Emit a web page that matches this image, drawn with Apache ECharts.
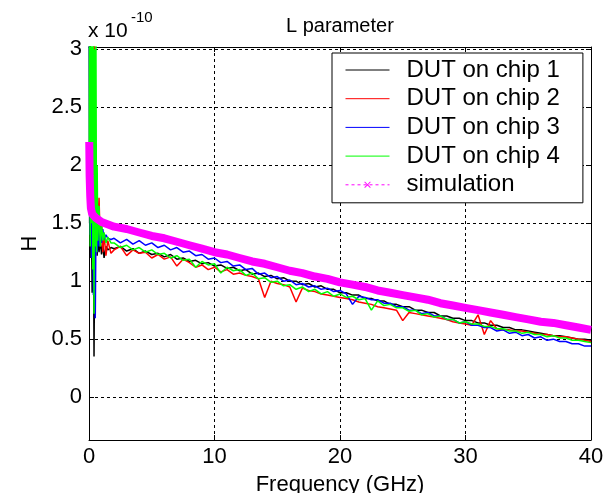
<!DOCTYPE html>
<html>
<head>
<meta charset="utf-8">
<script src="https://cdn.jsdelivr.net/npm/echarts@6/dist/echarts.min.js"></script>
<style>
html, body { margin: 0; padding: 0; background: #fff; }
#main { width: 608px; height: 493px; }
</style>
</head>
<body>
<div id="main"></div>
<script>
// frequency points (GHz), measured traces
var freq = [
    0.02, 0.05, 0.1, 0.15, 0.2, 0.25, 0.3, 0.35, 0.4, 0.45, 0.5, 0.55, 0.6, 0.65, 0.7, 0.8, 0.9, 1.0, 1.1, 1.2, 1.35, 1.5, 1.75,
    2, 2.5, 3, 3.5, 4, 4.5, 5, 5.5, 6, 6.5,
    7, 7.5, 8, 8.5, 9, 9.5, 10, 10.5, 11, 11.5,
    12, 12.5, 13, 13.5, 14, 14.5, 15, 15.5, 16, 16.5,
    17, 17.5, 18, 18.5, 19, 19.5, 20, 20.5, 21, 21.5,
    22, 22.5, 23, 23.5, 24, 24.5, 25, 25.5, 26, 26.5,
    27, 27.5, 28, 28.5, 29, 29.5, 30, 30.5, 31, 31.5,
    32, 32.5, 33, 33.5, 34, 34.5, 35, 35.5, 36, 36.5,
    37, 37.5, 38, 38.5, 39, 39.5, 40
];

// inductance, units of 1e-10 H
var chip1 = [
    3.6, 1.5, 3.4, 1.2, 1.45, 0.9, 1.07, 1.6, 0.35, 1.25, 1.45, 1.28, 1.5, 1.22, 1.4, 1.25, 1.35, 1.23, 1.32, 1.2, 1.30, 1.27, 1.29,
    1.28, 1.30, 1.26, 1.28, 1.24, 1.26, 1.23, 1.24, 1.21, 1.23,
    1.19, 1.20, 1.17, 1.18, 1.15, 1.16, 1.13, 1.14, 1.11, 1.12,
    1.09, 1.10, 1.06, 1.07, 1.04, 1.05, 1.02, 1.03, 1.00, 1.00,
    0.97, 0.98, 0.95, 0.96, 0.93, 0.93, 0.90, 0.90, 0.88, 0.88,
    0.85, 0.85, 0.83, 0.83, 0.80, 0.80, 0.78, 0.78, 0.75, 0.75,
    0.73, 0.73, 0.70, 0.70, 0.68, 0.68, 0.66, 0.66, 0.64, 0.64,
    0.62, 0.62, 0.60, 0.60, 0.58, 0.58, 0.57, 0.56, 0.55, 0.54,
    0.53, 0.53, 0.52, 0.51, 0.50, 0.50, 0.49
];
var chip2 = [
    2.0, 1.8, 1.6, 1.7, 1.55, 1.9, 1.5, 1.75, 3.5, 2.27, 1.4, 1.75, 1.3, 1.8, 1.35, 1.72, 1.3, 1.5, 1.25, 1.4, 1.22, 1.35, 1.24,
    1.27, 1.30, 1.22, 1.27, 1.24, 1.25, 1.20, 1.23, 1.19, 1.21,
    1.13, 1.19, 1.16, 1.12, 1.14, 1.10, 1.12, 1.08, 1.10, 1.06,
    1.07, 1.05, 1.04, 1.02, 0.86, 1.00, 0.98, 0.97, 0.95, 0.82,
    0.94, 0.92, 0.91, 0.89, 0.88, 0.87, 0.86, 0.85, 0.84, 0.82,
    0.81, 0.80, 0.78, 0.77, 0.76, 0.75, 0.66, 0.73, 0.72, 0.71,
    0.70, 0.69, 0.68, 0.67, 0.65, 0.64, 0.63, 0.62, 0.71, 0.54,
    0.66, 0.59, 0.58, 0.58, 0.57, 0.57, 0.56, 0.55, 0.54, 0.54,
    0.53, 0.52, 0.52, 0.51, 0.50, 0.49, 0.48
];
var chip3 = [
    3.8, 2.0, 1.4, 2.8, 1.2, 1.7, 1.3, 0.88, 1.5, 1.01, 0.68, 1.4, 1.6, 1.25, 1.5, 1.3, 1.42, 1.33, 1.45, 1.36, 1.40, 1.37, 1.36,
    1.37, 1.33, 1.36, 1.32, 1.35, 1.31, 1.33, 1.29, 1.31, 1.27,
    1.29, 1.25, 1.26, 1.22, 1.23, 1.19, 1.20, 1.16, 1.17, 1.13,
    1.14, 1.10, 1.11, 1.06, 1.07, 1.03, 1.04, 1.00, 1.01, 0.97,
    0.98, 0.95, 0.96, 0.93, 0.94, 0.91, 0.92, 0.89, 0.80, 0.87,
    0.86, 0.84, 0.84, 0.81, 0.81, 0.78, 0.78, 0.75, 0.75, 0.72,
    0.73, 0.70, 0.70, 0.67, 0.67, 0.64, 0.65, 0.62, 0.62, 0.60,
    0.60, 0.57, 0.58, 0.55, 0.56, 0.53, 0.54, 0.51, 0.52, 0.49,
    0.50, 0.48, 0.48, 0.46, 0.46, 0.44, 0.44
];
var chip4 = [
    1.9, 3.8, 1.3, 3.6, 1.5, 3.4, 1.1, 3.2, 0.72, 3.0, 1.3, 3.2, 1.25, 2.0, 1.35, 1.65, 1.3, 1.5, 1.35, 1.42, 1.33, 1.38, 1.33,
    1.33, 1.29, 1.31, 1.27, 1.29, 1.25, 1.27, 1.23, 1.24, 1.20,
    1.22, 1.18, 1.19, 1.12, 1.17, 1.14, 1.15, 1.07, 1.12, 1.09,
    1.10, 1.05, 1.07, 1.02, 1.03, 0.99, 1.00, 0.96, 0.97, 0.93,
    0.95, 0.91, 0.93, 0.89, 0.91, 0.87, 0.89, 0.86, 0.87, 0.84,
    0.85, 0.75, 0.83, 0.79, 0.80, 0.77, 0.77, 0.74, 0.75, 0.71,
    0.72, 0.69, 0.70, 0.67, 0.67, 0.64, 0.65, 0.63, 0.63, 0.61,
    0.61, 0.59, 0.59, 0.57, 0.57, 0.55, 0.56, 0.54, 0.54, 0.52,
    0.53, 0.51, 0.51, 0.49, 0.49, 0.48, 0.47
];

// simulation curve
var simFreq = [
    0.02, 0.05, 0.1, 0.15, 0.25, 0.5, 1,
    2, 3, 4, 5, 6, 7, 8, 9, 10, 11, 12, 13, 14, 15, 16, 17, 18, 19, 20,
    21, 22, 23, 24, 25, 26, 27, 28, 29, 30, 31, 32, 33, 34, 35, 36, 37, 38, 39, 40
];
var simL = [
    2.2, 1.91, 1.73, 1.63, 1.58, 1.55, 1.51,
    1.47, 1.45, 1.42, 1.39, 1.37, 1.34, 1.31, 1.28, 1.25, 1.23, 1.2, 1.17, 1.15, 1.12, 1.09, 1.07, 1.04, 1.02, 0.99,
    0.97, 0.95, 0.92, 0.90, 0.88, 0.86, 0.84, 0.81, 0.79, 0.77, 0.75, 0.73, 0.71, 0.69, 0.67, 0.65, 0.64, 0.62, 0.60, 0.58
];

var yTicks = [0, 0.5, 1, 1.5, 2, 2.5, 3];
var names = ['DUT on chip 1', 'DUT on chip 2', 'DUT on chip 3', 'DUT on chip 4', 'simulation'];
var colors = ['#000000', '#ff0000', '#0000ff', '#00ff00', '#ff00ff'];

var font = 'Liberation Sans';
var crossIcon = 'path://M0,1 L1,0 L5,4 L9,0 L10,1 L6,5 L10,9 L9,10 L5,6 L1,10 L0,9 L4,5 Z';

function pairs(xs, ys) {
    return xs.map(function (x, i) { return [x, ys[i]]; });
}

var myChart = echarts.init(document.getElementById('main'));

var measured = [chip1, chip2, chip3, chip4].map(function (vals, i) {
    return {
        name: names[i],
        type: 'line',
        data: pairs(freq, vals),
        symbol: 'none',
        clip: true,
        lineStyle: { color: colors[i], width: 1.5 },
        itemStyle: { color: colors[i] }
    };
});

var option = {
    animation: false,
    backgroundColor: '#fff',
    title: {
        text: 'L parameter',
        left: 281,
        top: 11,
        textStyle: { fontFamily: font, fontSize: 20, fontWeight: 'normal', color: '#000' }
    },
    graphic: [
        { type: 'text', left: 88, top: 21, style: { text: 'x 10', font: '21px "Liberation Sans"', fill: '#000' } },
        { type: 'text', left: 131, top: 10, style: { text: '-10', font: '15px "Liberation Sans"', fill: '#000' } }
    ],
    legend: {
        orient: 'vertical',
        left: 332,
        top: 53,
        padding: [5, 23, 6, 13],
        itemWidth: 44,
        itemHeight: 8,
        itemGap: 4.7,
        backgroundColor: '#fff',
        borderColor: '#000',
        borderWidth: 1,
        textStyle: { fontFamily: font, fontSize: 24, color: '#000', lineHeight: 24, padding: [0, 0, 0, 12] },
        data: [
            { name: names[0], itemStyle: { opacity: 0 }, lineStyle: { width: 1 } },
            { name: names[1], itemStyle: { opacity: 0 }, lineStyle: { width: 1 } },
            { name: names[2], itemStyle: { opacity: 0 }, lineStyle: { width: 1 } },
            { name: names[3], itemStyle: { opacity: 0 }, lineStyle: { width: 1 } },
            { name: names[4], lineStyle: { width: 1, type: [3, 3] } }
        ]
    },
    grid: { left: 89, right: 17, top: 47, bottom: 53, outerBoundsMode: 'none', containLabel: false },
    xAxis: [{
        type: 'value',
        min: 0, max: 40, interval: 10,
        name: 'Frequency (GHz)',
        nameLocation: 'middle',
        nameGap: 34,
        nameTextStyle: { fontFamily: font, fontSize: 22, color: '#000' },
        axisLine: { show: true, onZero: false, lineStyle: { color: '#000', width: 1 } },
        axisTick: { show: true, inside: true, length: 5, lineStyle: { color: '#000' } },
        axisLabel: { fontFamily: font, fontSize: 22, color: '#000', margin: 6 },
        splitLine: { show: true, lineStyle: { color: '#000', type: [3, 3], width: 1 } }
    }, {
        type: 'value',
        position: 'top',
        min: 0, max: 40, interval: 10,
        axisLine: { show: true, onZero: false, lineStyle: { color: '#000', width: 1 } },
        axisTick: { show: true, inside: true, length: 5, lineStyle: { color: '#000' } },
        axisLabel: { show: false },
        splitLine: { show: false }
    }],
    yAxis: [{
        type: 'value',
        min: -0.37, max: 3.02,
        name: 'H',
        nameLocation: 'middle',
        nameGap: 45,
        nameRotate: 90,
        nameTextStyle: { fontFamily: font, fontSize: 22, color: '#000' },
        axisLine: { show: true, onZero: false, lineStyle: { color: '#000', width: 1 } },
        axisTick: { show: true, inside: true, length: 5, customValues: yTicks, lineStyle: { color: '#000' } },
        axisLabel: { customValues: yTicks, fontFamily: font, fontSize: 22, color: '#000', margin: 7 },
        splitLine: { show: true, customValues: yTicks, lineStyle: { color: '#000', type: [3, 3], width: 1 } }
    }, {
        type: 'value',
        position: 'right',
        min: -0.37, max: 3.02,
        axisLine: { show: true, onZero: false, lineStyle: { color: '#000', width: 1 } },
        axisTick: { show: true, inside: true, length: 5, customValues: yTicks, lineStyle: { color: '#000' } },
        axisLabel: { show: false },
        splitLine: { show: false }
    }],
    series: measured.concat([{
        name: names[4],
        type: 'line',
        data: pairs(simFreq, simL),
        symbol: crossIcon,
        showSymbol: false,
        clip: true,
        lineStyle: { color: colors[4], width: 8 },
        itemStyle: { color: colors[4] }
    }])
};

myChart.setOption(option);
</script>
</body>
</html>
